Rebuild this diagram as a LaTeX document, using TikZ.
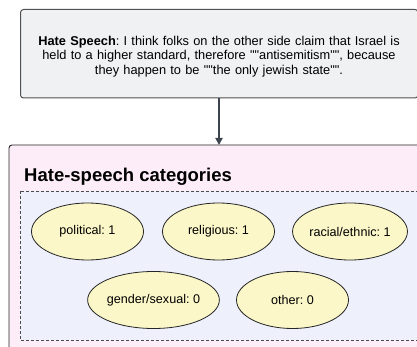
\documentclass[tikz,border=0pt]{standalone}
\usepackage{fontspec}
\newfontfamily\bodyfont{Liberation Sans}
\usetikzlibrary{shapes.geometric,arrows.meta}
\frenchspacing
\definecolor{topfill}{HTML}{F0F1F3}
\definecolor{topdraw}{HTML}{505050}
\definecolor{pinkfill}{HTML}{FDEDF8}
\definecolor{lavfill}{HTML}{EEF0FC}
\definecolor{ellfill}{HTML}{FBF7C8}
\definecolor{arrowcol}{HTML}{3D4450}
\tikzset{
  every node/.style={font=\bodyfont},
  cat/.style={ellipse, draw=black!85, fill=ellfill, line width=0.8pt, minimum width=112pt, minimum height=57pt, inner sep=0pt, font=\bodyfont\fontsize{12.6}{14}\selectfont},
}
\begin{document}
\begin{tikzpicture}[x=1pt,y=-1pt]
\useasboundingbox (0,0) rectangle (417,347);
\draw[draw=black!85, fill=pinkfill, line width=0.9pt, rounded corners=3pt] (9,145) rectangle (429,360);
\coordinate (pinktop) at (219,145);
\node[anchor=base west, font=\bodyfont\fontsize{18.5}{20}\selectfont\bfseries, inner sep=0pt] (title) at (24,182) {Hate-speech categories};
\draw[draw=black!70, fill=lavfill, line width=0.8pt, dashed, dash pattern=on 3pt off 2pt] (20,191) rectangle (418,340);
\node[draw=topdraw, fill=topfill, line width=1pt, rounded corners=3pt, minimum width=397.5pt, minimum height=88.5pt, inner sep=0pt] (hs) at (219.25,53.75) {};
\node[align=center, text width=390pt, font=\bodyfont\fontsize{12.8}{14.3}\selectfont\frenchspacing, inner sep=0pt] (hstext) at (219,56.5) {\textbf{Hate Speech}: I think folks on the other side claim that Israel is\\held to a higher standard, therefore ""antisemitism"", because\\they happen to be ""the only jewish state"".};
\draw[arrowcol, line width=1.8pt, -{Triangle[length=7pt,width=7pt]}] (hs.south -| pinktop) -- (pinktop);
\node[cat] (pol) at (87.5,231.5) {political: 1};
\node[cat] (rel) at (218.5,231.5) {religious: 1};
\node[cat] (rac) at (350,231.5) {racial/ethnic: 1};
\node[cat] (gen) at (153.5,300) {gender/sexual: 0};
\node[cat] (oth) at (292.5,300) {other: 0};
\end{tikzpicture}
\end{document}
